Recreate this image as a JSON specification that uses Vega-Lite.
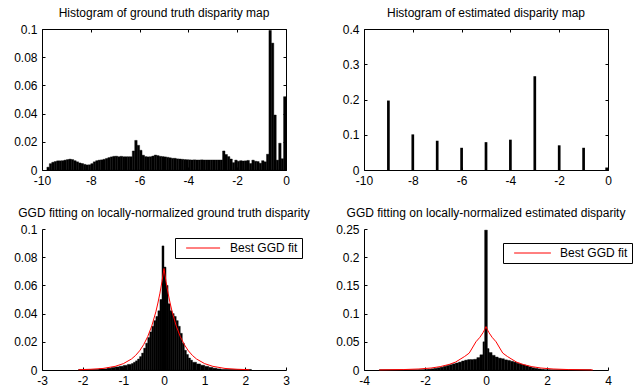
{
  "$schema": "https://vega.github.io/schema/vega-lite/v6.json",
  "padding": {"left": 13, "top": 7, "right": 5, "bottom": 5},
  "background": "white",
  "config": {
    "font": "Liberation Sans",
    "view": {"stroke": null},
    "axis": {
      "grid": false, "title": null,
      "domainColor": "black", "domainWidth": 1,
      "tickColor": "black", "tickSize": -3, "tickWidth": 1,
      "labelColor": "black", "labelFontSize": 12, "labelFont": "Liberation Sans",
      "labelPadding": 8, "labelFlush": false, "labelOverlap": false, "labelBound": false,
      "labelExpr": "replace(format(datum.value, '~g'), '\u2212', '-')"
    },
    "title": {"fontSize": 12, "fontWeight": "normal", "font": "Liberation Sans", "color": "black", "offset": 3, "anchor": "middle", "frame": "group"}
  },
  "datasets": {
    "h1": [
      {"a": -9.8, "b": -9.7, "y": 0.002}, {"a": -9.7, "b": -9.6, "y": 0.0045}, {"a": -9.6, "b": -9.5, "y": 0.0055},
      {"a": -9.5, "b": -9.4, "y": 0.006}, {"a": -9.4, "b": -9.3, "y": 0.0065}, {"a": -9.3, "b": -9.2, "y": 0.0065},
      {"a": -9.2, "b": -9.1, "y": 0.0066}, {"a": -9.1, "b": -9.0, "y": 0.007}, {"a": -9.0, "b": -8.9, "y": 0.0074},
      {"a": -8.9, "b": -8.8, "y": 0.0077}, {"a": -8.8, "b": -8.7, "y": 0.0074}, {"a": -8.7, "b": -8.6, "y": 0.0066},
      {"a": -8.6, "b": -8.5, "y": 0.0058}, {"a": -8.5, "b": -8.4, "y": 0.005}, {"a": -8.4, "b": -8.3, "y": 0.0046},
      {"a": -8.3, "b": -8.2, "y": 0.004}, {"a": -8.2, "b": -8.1, "y": 0.0036}, {"a": -8.1, "b": -8.0, "y": 0.0037},
      {"a": -8.0, "b": -7.9, "y": 0.0045}, {"a": -7.9, "b": -7.8, "y": 0.0058}, {"a": -7.8, "b": -7.7, "y": 0.0066},
      {"a": -7.7, "b": -7.6, "y": 0.007}, {"a": -7.6, "b": -7.5, "y": 0.0072}, {"a": -7.5, "b": -7.4, "y": 0.0076},
      {"a": -7.4, "b": -7.3, "y": 0.0082}, {"a": -7.3, "b": -7.2, "y": 0.0088}, {"a": -7.2, "b": -7.1, "y": 0.0093},
      {"a": -7.1, "b": -7.0, "y": 0.0097}, {"a": -7.0, "b": -6.9, "y": 0.0098}, {"a": -6.9, "b": -6.8, "y": 0.0094},
      {"a": -6.8, "b": -6.7, "y": 0.0097}, {"a": -6.7, "b": -6.6, "y": 0.0094}, {"a": -6.6, "b": -6.5, "y": 0.0094},
      {"a": -6.5, "b": -6.4, "y": 0.0094}, {"a": -6.4, "b": -6.3, "y": 0.0094}, {"a": -6.3, "b": -6.2, "y": 0.0135},
      {"a": -6.2, "b": -6.1, "y": 0.021}, {"a": -6.1, "b": -6.0, "y": 0.0175}, {"a": -6.0, "b": -5.9, "y": 0.014},
      {"a": -5.9, "b": -5.8, "y": 0.0105}, {"a": -5.8, "b": -5.7, "y": 0.0095}, {"a": -5.7, "b": -5.6, "y": 0.0093},
      {"a": -5.6, "b": -5.5, "y": 0.0094}, {"a": -5.5, "b": -5.4, "y": 0.0099}, {"a": -5.4, "b": -5.3, "y": 0.0106},
      {"a": -5.3, "b": -5.2, "y": 0.0102}, {"a": -5.2, "b": -5.1, "y": 0.0097}, {"a": -5.1, "b": -5.0, "y": 0.0095},
      {"a": -5.0, "b": -4.9, "y": 0.0093}, {"a": -4.9, "b": -4.8, "y": 0.009}, {"a": -4.8, "b": -4.7, "y": 0.0086},
      {"a": -4.7, "b": -4.6, "y": 0.0083}, {"a": -4.6, "b": -4.5, "y": 0.0083}, {"a": -4.5, "b": -4.4, "y": 0.0079},
      {"a": -4.4, "b": -4.3, "y": 0.0078}, {"a": -4.3, "b": -4.2, "y": 0.0076}, {"a": -4.2, "b": -4.1, "y": 0.0074},
      {"a": -4.1, "b": -4.0, "y": 0.0073}, {"a": -4.0, "b": -3.9, "y": 0.0072}, {"a": -3.9, "b": -3.8, "y": 0.0071},
      {"a": -3.8, "b": -3.7, "y": 0.0072}, {"a": -3.7, "b": -3.6, "y": 0.0071}, {"a": -3.6, "b": -3.5, "y": 0.0071},
      {"a": -3.5, "b": -3.4, "y": 0.0072}, {"a": -3.4, "b": -3.3, "y": 0.0071}, {"a": -3.3, "b": -3.2, "y": 0.0071},
      {"a": -3.2, "b": -3.1, "y": 0.0071}, {"a": -3.1, "b": -3.0, "y": 0.0071}, {"a": -3.0, "b": -2.9, "y": 0.0071},
      {"a": -2.9, "b": -2.8, "y": 0.0071}, {"a": -2.8, "b": -2.7, "y": 0.0071}, {"a": -2.7, "b": -2.6, "y": 0.0071},
      {"a": -2.6, "b": -2.5, "y": 0.0135}, {"a": -2.5, "b": -2.4, "y": 0.011}, {"a": -2.4, "b": -2.3, "y": 0.0095},
      {"a": -2.3, "b": -2.2, "y": 0.0078}, {"a": -2.2, "b": -2.1, "y": 0.0052}, {"a": -2.1, "b": -2.0, "y": 0.007},
      {"a": -2.0, "b": -1.9, "y": 0.0062}, {"a": -1.9, "b": -1.8, "y": 0.0066}, {"a": -1.8, "b": -1.7, "y": 0.0064},
      {"a": -1.7, "b": -1.6, "y": 0.0065}, {"a": -1.6, "b": -1.5, "y": 0.0068}, {"a": -1.5, "b": -1.4, "y": 0.0046},
      {"a": -1.4, "b": -1.3, "y": 0.007}, {"a": -1.3, "b": -1.2, "y": 0.0062}, {"a": -1.2, "b": -1.1, "y": 0.006},
      {"a": -1.1, "b": -1.0, "y": 0.0048}, {"a": -1.0, "b": -0.9, "y": 0.0066}, {"a": -0.9, "b": -0.8, "y": 0.0058},
      {"a": -0.8, "b": -0.7, "y": 0.0112}, {"a": -0.7, "b": -0.6, "y": 0.099}, {"a": -0.6, "b": -0.5, "y": 0.09},
      {"a": -0.5, "b": -0.4, "y": 0.039}, {"a": -0.4, "b": -0.3, "y": 0.007}, {"a": -0.3, "b": -0.2, "y": 0.019},
      {"a": -0.2, "b": -0.1, "y": 0.008}, {"a": -0.1, "b": 0.0, "y": 0.052}
    ],
    "h2": [
      {"a": -9.055, "b": -8.945, "y": 0.197}, {"a": -8.055, "b": -7.945, "y": 0.101},
      {"a": -7.055, "b": -6.945, "y": 0.083}, {"a": -6.055, "b": -5.945, "y": 0.063},
      {"a": -5.055, "b": -4.945, "y": 0.079}, {"a": -4.055, "b": -3.945, "y": 0.086},
      {"a": -3.055, "b": -2.945, "y": 0.266}, {"a": -2.055, "b": -1.945, "y": 0.07},
      {"a": -1.055, "b": -0.945, "y": 0.063}, {"a": -0.11, "b": 0.0, "y": 0.007}
    ],
    "h3": [
      {"a": -2.1, "b": -1.6, "y": 0.0004}, {"a": -1.6, "b": -1.4, "y": 0.0008}, {"a": -1.4, "b": -1.3, "y": 0.0013},
      {"a": -1.3, "b": -1.2, "y": 0.0018}, {"a": -1.2, "b": -1.1, "y": 0.0022}, {"a": -1.1, "b": -1.0, "y": 0.0027},
      {"a": -1.0, "b": -0.9, "y": 0.0033}, {"a": -0.9, "b": -0.8, "y": 0.004}, {"a": -0.8, "b": -0.75, "y": 0.0046},
      {"a": -0.75, "b": -0.7, "y": 0.0055}, {"a": -0.7, "b": -0.65, "y": 0.0065}, {"a": -0.65, "b": -0.6, "y": 0.0078},
      {"a": -0.6, "b": -0.55, "y": 0.0095}, {"a": -0.55, "b": -0.5, "y": 0.012}, {"a": -0.5, "b": -0.45, "y": 0.0155},
      {"a": -0.45, "b": -0.4, "y": 0.019}, {"a": -0.4, "b": -0.35, "y": 0.023}, {"a": -0.35, "b": -0.3, "y": 0.027},
      {"a": -0.3, "b": -0.25, "y": 0.031}, {"a": -0.25, "b": -0.2, "y": 0.035}, {"a": -0.2, "b": -0.15, "y": 0.038},
      {"a": -0.15, "b": -0.1, "y": 0.042}, {"a": -0.1, "b": -0.05, "y": 0.05}, {"a": -0.05, "b": 0.0, "y": 0.088},
      {"a": 0.0, "b": 0.05, "y": 0.073}, {"a": 0.05, "b": 0.1, "y": 0.06}, {"a": 0.1, "b": 0.15, "y": 0.047},
      {"a": 0.15, "b": 0.2, "y": 0.042}, {"a": 0.2, "b": 0.25, "y": 0.04}, {"a": 0.25, "b": 0.3, "y": 0.038},
      {"a": 0.3, "b": 0.35, "y": 0.035}, {"a": 0.35, "b": 0.4, "y": 0.031}, {"a": 0.4, "b": 0.45, "y": 0.026},
      {"a": 0.45, "b": 0.5, "y": 0.019}, {"a": 0.5, "b": 0.55, "y": 0.014}, {"a": 0.55, "b": 0.6, "y": 0.011},
      {"a": 0.6, "b": 0.65, "y": 0.0085}, {"a": 0.65, "b": 0.7, "y": 0.007}, {"a": 0.7, "b": 0.8, "y": 0.0055},
      {"a": 0.8, "b": 0.9, "y": 0.0043}, {"a": 0.9, "b": 1.0, "y": 0.0034}, {"a": 1.0, "b": 1.1, "y": 0.0026},
      {"a": 1.1, "b": 1.2, "y": 0.0019}, {"a": 1.2, "b": 1.3, "y": 0.0013}, {"a": 1.3, "b": 1.4, "y": 0.0008},
      {"a": 1.4, "b": 2.15, "y": 0.0004}
    ],
    "h4": [
      {"a": -3.5, "b": -2.2, "y": 0.0003}, {"a": -2.2, "b": -2.0, "y": 0.0006}, {"a": -2.0, "b": -1.9, "y": 0.001},
      {"a": -1.9, "b": -1.8, "y": 0.0015}, {"a": -1.8, "b": -1.7, "y": 0.0022}, {"a": -1.7, "b": -1.6, "y": 0.003},
      {"a": -1.6, "b": -1.5, "y": 0.004}, {"a": -1.5, "b": -1.4, "y": 0.005}, {"a": -1.4, "b": -1.3, "y": 0.0065},
      {"a": -1.3, "b": -1.2, "y": 0.008}, {"a": -1.2, "b": -1.1, "y": 0.0095}, {"a": -1.1, "b": -1.0, "y": 0.011},
      {"a": -1.0, "b": -0.9, "y": 0.0125}, {"a": -0.9, "b": -0.8, "y": 0.014}, {"a": -0.8, "b": -0.7, "y": 0.016},
      {"a": -0.7, "b": -0.6, "y": 0.0175}, {"a": -0.6, "b": -0.5, "y": 0.0185}, {"a": -0.5, "b": -0.4, "y": 0.0185},
      {"a": -0.4, "b": -0.3, "y": 0.019}, {"a": -0.3, "b": -0.2, "y": 0.022}, {"a": -0.2, "b": -0.1, "y": 0.027},
      {"a": -0.1, "b": -0.045, "y": 0.05}, {"a": -0.045, "b": 0.045, "y": 0.248}, {"a": 0.045, "b": 0.1, "y": 0.038},
      {"a": 0.1, "b": 0.2, "y": 0.031}, {"a": 0.2, "b": 0.3, "y": 0.026}, {"a": 0.3, "b": 0.4, "y": 0.023},
      {"a": 0.4, "b": 0.5, "y": 0.021}, {"a": 0.5, "b": 0.6, "y": 0.02}, {"a": 0.6, "b": 0.7, "y": 0.018},
      {"a": 0.7, "b": 0.8, "y": 0.017}, {"a": 0.8, "b": 0.9, "y": 0.0155}, {"a": 0.9, "b": 1.0, "y": 0.014},
      {"a": 1.0, "b": 1.1, "y": 0.012}, {"a": 1.1, "b": 1.2, "y": 0.0105}, {"a": 1.2, "b": 1.3, "y": 0.009},
      {"a": 1.3, "b": 1.4, "y": 0.0072}, {"a": 1.4, "b": 1.5, "y": 0.0055}, {"a": 1.5, "b": 1.6, "y": 0.004},
      {"a": 1.6, "b": 1.7, "y": 0.003}, {"a": 1.7, "b": 1.8, "y": 0.002}, {"a": 1.8, "b": 1.9, "y": 0.0012},
      {"a": 1.9, "b": 2.1, "y": 0.0006}, {"a": 2.1, "b": 3.45, "y": 0.0003}
    ],
    "f3": [
      {"x": -2.1, "y": 0.0002, "s": "Best GGD fit"}, {"x": -1.8, "y": 0.0005, "s": "Best GGD fit"},
      {"x": -1.5, "y": 0.0011, "s": "Best GGD fit"}, {"x": -1.2, "y": 0.0026, "s": "Best GGD fit"},
      {"x": -1.0, "y": 0.0045, "s": "Best GGD fit"}, {"x": -0.8, "y": 0.0078, "s": "Best GGD fit"},
      {"x": -0.7, "y": 0.0103, "s": "Best GGD fit"}, {"x": -0.6, "y": 0.0136, "s": "Best GGD fit"},
      {"x": -0.5, "y": 0.018, "s": "Best GGD fit"}, {"x": -0.4, "y": 0.0237, "s": "Best GGD fit"},
      {"x": -0.3, "y": 0.0313, "s": "Best GGD fit"}, {"x": -0.2, "y": 0.0413, "s": "Best GGD fit"},
      {"x": -0.15, "y": 0.0475, "s": "Best GGD fit"}, {"x": -0.1, "y": 0.0545, "s": "Best GGD fit"},
      {"x": -0.05, "y": 0.0627, "s": "Best GGD fit"}, {"x": 0.0, "y": 0.072, "s": "Best GGD fit"},
      {"x": 0.05, "y": 0.0627, "s": "Best GGD fit"}, {"x": 0.1, "y": 0.0545, "s": "Best GGD fit"},
      {"x": 0.15, "y": 0.0475, "s": "Best GGD fit"}, {"x": 0.2, "y": 0.0413, "s": "Best GGD fit"},
      {"x": 0.3, "y": 0.0313, "s": "Best GGD fit"}, {"x": 0.4, "y": 0.0237, "s": "Best GGD fit"},
      {"x": 0.5, "y": 0.018, "s": "Best GGD fit"}, {"x": 0.6, "y": 0.0136, "s": "Best GGD fit"},
      {"x": 0.7, "y": 0.0103, "s": "Best GGD fit"}, {"x": 0.8, "y": 0.0078, "s": "Best GGD fit"},
      {"x": 1.0, "y": 0.0045, "s": "Best GGD fit"}, {"x": 1.2, "y": 0.0026, "s": "Best GGD fit"},
      {"x": 1.5, "y": 0.0011, "s": "Best GGD fit"}, {"x": 1.8, "y": 0.0005, "s": "Best GGD fit"},
      {"x": 2.1, "y": 0.0002, "s": "Best GGD fit"}
    ],
    "f4": [
      {"x": -3.5, "y": 0.0002, "s": "Best GGD fit"}, {"x": -2.7, "y": 0.0008, "s": "Best GGD fit"},
      {"x": -2.2, "y": 0.0018, "s": "Best GGD fit"}, {"x": -1.8, "y": 0.0035, "s": "Best GGD fit"},
      {"x": -1.5, "y": 0.006, "s": "Best GGD fit"}, {"x": -1.2, "y": 0.01, "s": "Best GGD fit"},
      {"x": -1.0, "y": 0.014, "s": "Best GGD fit"}, {"x": -0.82, "y": 0.02, "s": "Best GGD fit"},
      {"x": -0.7, "y": 0.024, "s": "Best GGD fit"}, {"x": -0.55, "y": 0.03, "s": "Best GGD fit"},
      {"x": -0.45, "y": 0.039, "s": "Best GGD fit"}, {"x": -0.33, "y": 0.05, "s": "Best GGD fit"},
      {"x": -0.2, "y": 0.058, "s": "Best GGD fit"}, {"x": -0.1, "y": 0.066, "s": "Best GGD fit"},
      {"x": -0.05, "y": 0.071, "s": "Best GGD fit"}, {"x": 0.0, "y": 0.077, "s": "Best GGD fit"},
      {"x": 0.05, "y": 0.071, "s": "Best GGD fit"}, {"x": 0.1, "y": 0.066, "s": "Best GGD fit"},
      {"x": 0.2, "y": 0.058, "s": "Best GGD fit"}, {"x": 0.33, "y": 0.05, "s": "Best GGD fit"},
      {"x": 0.45, "y": 0.039, "s": "Best GGD fit"}, {"x": 0.55, "y": 0.03, "s": "Best GGD fit"},
      {"x": 0.7, "y": 0.024, "s": "Best GGD fit"}, {"x": 0.82, "y": 0.02, "s": "Best GGD fit"},
      {"x": 1.0, "y": 0.014, "s": "Best GGD fit"}, {"x": 1.2, "y": 0.01, "s": "Best GGD fit"},
      {"x": 1.5, "y": 0.006, "s": "Best GGD fit"}, {"x": 1.8, "y": 0.0035, "s": "Best GGD fit"},
      {"x": 2.2, "y": 0.0018, "s": "Best GGD fit"}, {"x": 2.7, "y": 0.0008, "s": "Best GGD fit"},
      {"x": 3.5, "y": 0.0002, "s": "Best GGD fit"}
    ]
  },
  "columns": 2,
  "spacing": {"row": 59, "column": 78},
  "bounds": "flush",
  "resolve": {"scale": {"color": "independent"}, "legend": {"color": "independent"}},
  "concat": [
    {
      "width": 244, "height": 141,
      "title": {"text": "Histogram of ground truth disparity map"},
      "data": {"name": "h1"},
      "layer": [
        {
          "mark": {"type": "bar", "color": "black", "stroke": "black", "strokeWidth": 0.4},
          "encoding": {
            "x": {"field": "a", "type": "quantitative", "scale": {"domain": [-10, 0], "nice": false, "zero": false, "padding": 0}, "axis": {"values": [-10, -8, -6, -4, -2, 0]}},
            "x2": {"field": "b"},
            "y": {"field": "y", "type": "quantitative", "scale": {"domain": [0, 0.1], "nice": false, "padding": 0}, "axis": {"values": [0, 0.02, 0.04, 0.06, 0.08, 0.1]}},
            "y2": {"datum": 0}
          }
        },
        {
          "mark": {"type": "bar", "opacity": 0},
          "encoding": {
            "x": {"field": "a", "type": "quantitative", "scale": {"domain": [-10, 0], "nice": false, "zero": false, "padding": 0}, "axis": {"orient": "top", "labels": false, "values": [-10, -8, -6, -4, -2, 0]}},
            "x2": {"field": "b"},
            "y": {"field": "y", "type": "quantitative", "scale": {"domain": [0, 0.1], "nice": false, "padding": 0}, "axis": {"orient": "right", "labels": false, "values": [0, 0.02, 0.04, 0.06, 0.08, 0.1]}},
            "y2": {"datum": 0}
          }
        }
      ],
      "resolve": {"axis": {"x": "independent", "y": "independent"}}
    },
    {
      "width": 244, "height": 141,
      "title": {"text": "Histogram of estimated disparity map"},
      "data": {"name": "h2"},
      "layer": [
        {
          "mark": {"type": "bar", "color": "black", "clip": true},
          "encoding": {
            "x": {"field": "a", "type": "quantitative", "scale": {"domain": [-10, 0], "nice": false, "zero": false, "padding": 0}, "axis": {"values": [-10, -8, -6, -4, -2, 0]}},
            "x2": {"field": "b"},
            "y": {"field": "y", "type": "quantitative", "scale": {"domain": [0, 0.4], "nice": false, "padding": 0}, "axis": {"values": [0, 0.1, 0.2, 0.3, 0.4]}},
            "y2": {"datum": 0}
          }
        },
        {
          "mark": {"type": "bar", "opacity": 0, "clip": true},
          "encoding": {
            "x": {"field": "a", "type": "quantitative", "scale": {"domain": [-10, 0], "nice": false, "zero": false, "padding": 0}, "axis": {"orient": "top", "labels": false, "values": [-10, -8, -6, -4, -2, 0]}},
            "x2": {"field": "b"},
            "y": {"field": "y", "type": "quantitative", "scale": {"domain": [0, 0.4], "nice": false, "padding": 0}, "axis": {"orient": "right", "labels": false, "values": [0, 0.1, 0.2, 0.3, 0.4]}},
            "y2": {"datum": 0}
          }
        }
      ],
      "resolve": {"axis": {"x": "independent", "y": "independent"}}
    },
    {
      "width": 244, "height": 141,
      "title": {"text": "GGD fitting on locally-normalized ground truth disparity"},
      "layer": [
        {
          "data": {"name": "h3"},
          "mark": {"type": "bar", "color": "black", "stroke": "black", "strokeWidth": 0.4},
          "encoding": {
            "x": {"field": "a", "type": "quantitative", "scale": {"domain": [-3, 3], "nice": false, "zero": false, "padding": 0}, "axis": {"values": [-3, -2, -1, 0, 1, 2, 3]}},
            "x2": {"field": "b"},
            "y": {"field": "y", "type": "quantitative", "scale": {"domain": [0, 0.1], "nice": false, "padding": 0}, "axis": {"values": [0, 0.02, 0.04, 0.06, 0.08, 0.1]}},
            "y2": {"datum": 0}
          }
        },
        {
          "data": {"name": "f3"},
          "mark": {"type": "line", "strokeWidth": 1},
          "encoding": {
            "x": {"field": "x", "type": "quantitative", "scale": {"domain": [-3, 3], "nice": false, "zero": false, "padding": 0}, "axis": {"values": [-3, -2, -1, 0, 1, 2, 3]}},
            "y": {"field": "y", "type": "quantitative", "scale": {"domain": [0, 0.1], "nice": false, "padding": 0}, "axis": {"values": [0, 0.02, 0.04, 0.06, 0.08, 0.1]}},
            "color": {"field": "s", "type": "nominal", "scale": {"range": ["#ff0000"]},
              "legend": {"title": null, "orient": "none", "legendX": 133, "legendY": 9, "strokeColor": "black", "fillColor": "white", "padding": 4,
                "symbolType": "M0.4,0H12.4", "symbolSize": 32, "symbolStrokeWidth": 1, "symbolStrokeColor": "#ff0000", "labelOffset": 39,
                "labelFontSize": 12, "labelFont": "Liberation Sans", "labelColor": "black", "labelExpr": "datum.label + ' '"}}
          }
        }
      ]
    },
    {
      "width": 244, "height": 141,
      "title": {"text": "GGD fitting on locally-normalized estimated disparity"},
      "layer": [
        {
          "data": {"name": "h4"},
          "mark": {"type": "bar", "color": "black", "stroke": "black", "strokeWidth": 0.4},
          "encoding": {
            "x": {"field": "a", "type": "quantitative", "scale": {"domain": [-4, 4], "nice": false, "zero": false, "padding": 0}, "axis": {"values": [-4, -2, 0, 2, 4]}},
            "x2": {"field": "b"},
            "y": {"field": "y", "type": "quantitative", "scale": {"domain": [0, 0.25], "nice": false, "padding": 0}, "axis": {"values": [0, 0.05, 0.1, 0.15, 0.2, 0.25]}},
            "y2": {"datum": 0}
          }
        },
        {
          "data": {"name": "f4"},
          "mark": {"type": "line", "strokeWidth": 1},
          "encoding": {
            "x": {"field": "x", "type": "quantitative", "scale": {"domain": [-4, 4], "nice": false, "zero": false, "padding": 0}, "axis": {"values": [-4, -2, 0, 2, 4]}},
            "y": {"field": "y", "type": "quantitative", "scale": {"domain": [0, 0.25], "nice": false, "padding": 0}, "axis": {"values": [0, 0.05, 0.1, 0.15, 0.2, 0.25]}},
            "color": {"field": "s", "type": "nominal", "scale": {"range": ["#ff0000"]},
              "legend": {"title": null, "orient": "none", "legendX": 139, "legendY": 14, "strokeColor": "black", "fillColor": "white", "padding": 4,
                "symbolType": "M0.4,0H13.4", "symbolSize": 32, "symbolStrokeWidth": 1, "symbolStrokeColor": "#ff0000", "labelOffset": 41,
                "labelFontSize": 12, "labelFont": "Liberation Sans", "labelColor": "black", "labelExpr": "datum.label + ' '"}}
          }
        }
      ]
    }
  ]
}
